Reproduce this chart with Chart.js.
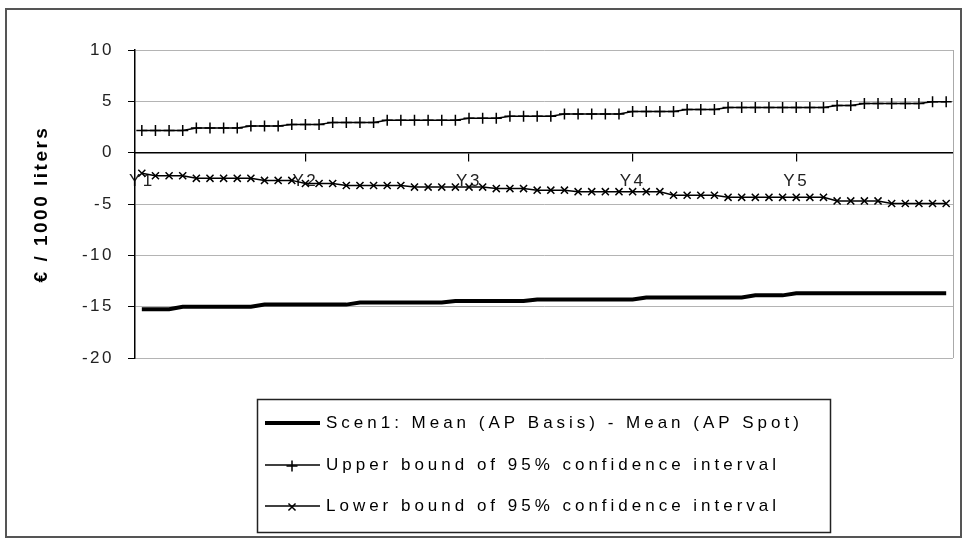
<!DOCTYPE html>
<html>
<head>
<meta charset="utf-8">
<script src="https://cdn.jsdelivr.net/npm/chart.js@4/dist/chart.umd.min.js"></script>
<style>
  html, body { margin: 0; padding: 0; background: #fff; }
  canvas { display: block; }
</style>
</head>
<body>
<canvas id="c" width="964" height="540"></canvas>
<script>
// ---- data ----
const yearLabels = ['Y1', 'Y2', 'Y3', 'Y4', 'Y5'];
const monthsPerYear = 12;

const meanValues = [
  -15.25, -15.25, -15.25,
  -15.0, -15.0, -15.0, -15.0, -15.0, -15.0,
  -14.8, -14.8, -14.8, -14.8, -14.8, -14.8, -14.8,
  -14.6, -14.6, -14.6, -14.6, -14.6, -14.6, -14.6,
  -14.45, -14.45, -14.45, -14.45, -14.45, -14.45,
  -14.3, -14.3, -14.3, -14.3, -14.3, -14.3, -14.3, -14.3,
  -14.1, -14.1, -14.1, -14.1, -14.1, -14.1, -14.1, -14.1,
  -13.9, -13.9, -13.9,
  -13.7, -13.7, -13.7, -13.7, -13.7, -13.7, -13.7, -13.7, -13.7, -13.7, -13.7, -13.7
];

const upperValues = [
  2.15, 2.15, 2.15, 2.15,
  2.4, 2.4, 2.4, 2.4,
  2.6, 2.6, 2.6,
  2.75, 2.75, 2.75,
  2.95, 2.95, 2.95, 2.95,
  3.15, 3.15, 3.15, 3.15, 3.15, 3.15,
  3.35, 3.35, 3.35,
  3.55, 3.55, 3.55, 3.55,
  3.77, 3.77, 3.77, 3.77, 3.77,
  4.0, 4.0, 4.0, 4.0,
  4.2, 4.2, 4.2,
  4.4, 4.4, 4.4, 4.4, 4.4, 4.4, 4.4, 4.4,
  4.6, 4.6,
  4.8, 4.8, 4.8, 4.8, 4.8,
  4.95, 4.95
];

const lowerValues = [
  -2.0,
  -2.25, -2.25, -2.25,
  -2.5, -2.5, -2.5, -2.5, -2.5,
  -2.7, -2.7, -2.7,
  -3.0, -3.0, -3.0,
  -3.2, -3.2, -3.2, -3.2, -3.2,
  -3.35, -3.35, -3.35, -3.35, -3.35, -3.35,
  -3.5, -3.5, -3.5,
  -3.65, -3.65, -3.65,
  -3.8, -3.8, -3.8, -3.8, -3.8, -3.8, -3.8,
  -4.15, -4.15, -4.15, -4.15,
  -4.35, -4.35, -4.35, -4.35, -4.35, -4.35, -4.35, -4.35,
  -4.7, -4.7, -4.7, -4.7,
  -4.95, -4.95, -4.95, -4.95, -4.95
];

const seriesNames = [
  'Scen1: Mean (AP Basis) - Mean (AP Spot)',
  'Upper bound of 95% confidence interval',
  'Lower bound of 95% confidence interval'
];
const yAxisTitle = '€ / 1000 liters';
const yTicks = [10, 5, 0, -5, -10, -15, -20];

// categories: one per month, year label on the first month
const categories = [];
yearLabels.forEach(y => {
  for (let m = 1; m <= monthsPerYear; m++) categories.push(y + ' M' + m);
});

const FONT = "'Liberation Sans', Arial, sans-serif";

// ---- plugins ----
const spacingPlugin = {
  id: 'spacing',
  beforeLayout(chart) { chart.ctx.letterSpacing = '2.5px'; },
  beforeDraw(chart) { chart.ctx.letterSpacing = '2.5px'; }
};

const framePlugin = {
  id: 'frame',
  beforeDraw(chart) {
    const ctx = chart.ctx;
    ctx.save();
    ctx.fillStyle = '#fff';
    ctx.fillRect(0, 0, chart.width, chart.height);
    ctx.strokeStyle = '#555';
    ctx.lineWidth = 2;
    ctx.strokeRect(6, 9, 955, 528);
    ctx.restore();
  },
  beforeDatasetsDraw(chart) {
    const ctx = chart.ctx, a = chart.chartArea;
    ctx.save();
    ctx.strokeStyle = '#aaa';
    ctx.lineWidth = 1;
    ctx.beginPath();
    ctx.moveTo(Math.round(a.right) + 0.5, a.top);
    ctx.lineTo(Math.round(a.right) + 0.5, a.bottom);
    ctx.stroke();
    ctx.restore();
  }
};

const legendPlugin = {
  id: 'boxLegend',
  afterDraw(chart) {
    const ctx = chart.ctx;
    ctx.save();
    ctx.letterSpacing = '0px';
    ctx.strokeStyle = '#222';
    ctx.lineWidth = 1.5;
    ctx.strokeRect(257.5, 399.5, 573, 133);
    ctx.font = '17px ' + FONT;
    const ref = ctx.measureText(seriesNames[1]).width;
    const sp = Math.max(0, (454 - ref) / seriesNames[1].length);
    const rows = [423, 465, 506];
    chart.data.datasets.forEach((ds, i) => {
      const y = rows[i];
      ctx.strokeStyle = '#000';
      ctx.lineWidth = ds.borderWidth;
      ctx.beginPath();
      ctx.moveTo(265, y);
      ctx.lineTo(320, y);
      ctx.stroke();
      if (ds.pointRadius > 0) {
        Chart.helpers.drawPoint(ctx, {
          pointStyle: ds.pointStyle, radius: ds.pointRadius,
          borderWidth: ds.pointBorderWidth, rotation: 0
        }, 292, y + 1);
      }
      ctx.fillStyle = '#000';
      ctx.letterSpacing = sp.toFixed(2) + 'px';
      ctx.textBaseline = 'middle';
      ctx.textAlign = 'left';
      ctx.fillText(ds.label, 326, y);
      ctx.letterSpacing = '0px';
    });
    ctx.restore();
  }
};

// ---- chart ----
new Chart(document.getElementById('c'), {
  type: 'line',
  data: {
    labels: categories,
    datasets: [
      {
        label: seriesNames[0], data: meanValues,
        borderColor: '#000', backgroundColor: '#000', borderWidth: 4,
        pointRadius: 0, tension: 0
      },
      {
        label: seriesNames[1], data: upperValues,
        borderColor: '#000', backgroundColor: '#000', borderWidth: 1.5,
        pointStyle: 'cross', pointRadius: 5.5, pointBorderWidth: 1.5,
        pointBorderColor: '#000', tension: 0
      },
      {
        label: seriesNames[2], data: lowerValues,
        borderColor: '#000', backgroundColor: '#000', borderWidth: 1.5,
        pointStyle: 'crossRot', pointRadius: 5, pointBorderWidth: 1.5,
        pointBorderColor: '#000', tension: 0
      }
    ]
  },
  options: {
    responsive: false,
    animation: false,
    events: [],
    layout: { padding: { left: 0, right: 11, top: 50, bottom: 182 } },
    plugins: { legend: { display: false }, tooltip: { enabled: false } },
    scales: {
      x: {
        type: 'category',
        position: { y: 0 },
        offset: true,
        border: { color: '#000', width: 1.5 },
        grid: {
          drawOnChartArea: false, drawTicks: true, tickLength: 8, lineWidth: 1.2,
          color: c => (c.index % monthsPerYear === 0 && c.index > 0) ? '#000' : 'rgba(0,0,0,0)'
        },
        ticks: {
          autoSkip: false, maxRotation: 0, minRotation: 0, padding: 10,
          color: '#222', font: { family: FONT, size: 17 },
          callback: (v, i) => i % monthsPerYear === 0 ? yearLabels[i / monthsPerYear] : ''
        }
      },
      y: {
        min: -20, max: 10,
        afterFit: s => { s.width = 135; },
        afterBuildTicks: s => { s.ticks = yTicks.map(v => ({ value: v })); },
        border: { color: '#000', width: 1.5 },
        grid: {
          color: c => (c.tick && c.tick.value === 0) ? 'rgba(0,0,0,0)' : '#b4b4b4',
          tickColor: '#000', tickLength: 7, lineWidth: 1
        },
        ticks: {
          stepSize: 5, padding: 14, color: '#222',
          font: { family: FONT, size: 17 }
        },
        title: {
          display: true, text: yAxisTitle, color: '#000',
          font: { family: FONT, size: 19, weight: 'bold' },
          padding: { top: 30, bottom: 0 }
        }
      }
    }
  },
  plugins: [spacingPlugin, framePlugin, legendPlugin]
});
</script>
</body>
</html>
